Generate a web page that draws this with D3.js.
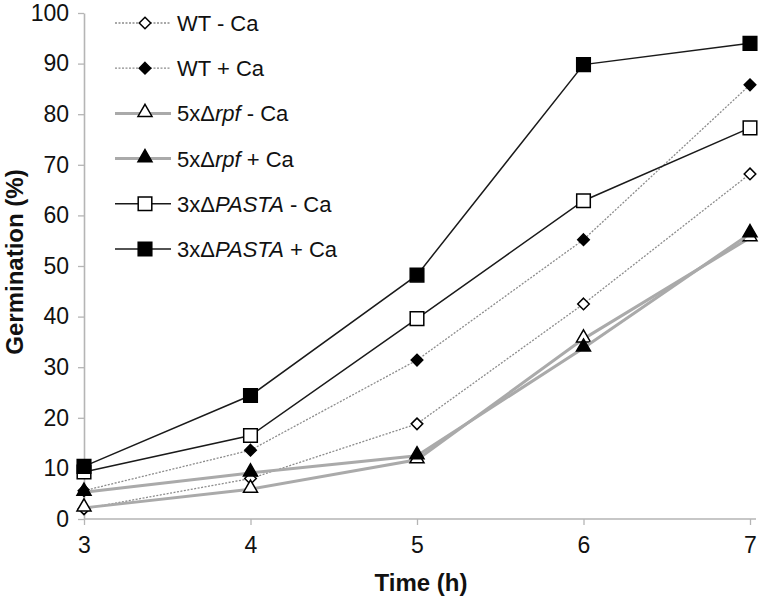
<!DOCTYPE html>
<html><head><meta charset="utf-8">
<script src="https://cdn.jsdelivr.net/npm/d3@7"></script>
<style>body{margin:0;background:#fff}svg{display:block;font-family:"Liberation Sans",Arial,sans-serif}</style>
</head><body><svg id="c" width="760" height="598"></svg>
<script>
const times = [3, 4, 5, 6, 7];
const yTicks = [0, 10, 20, 30, 40, 50, 60, 70, 80, 90, 100];
const seriesNames = ["WT - Ca", "WT + Ca", "5x\u0394rpf - Ca", "5x\u0394rpf + Ca", "3x\u0394PASTA - Ca", "3x\u0394PASTA + Ca"];
const wtMinus = [2, 8, 18.8, 42.5, 68.2];
const wtPlus = [5.6, 13.6, 31.4, 55.2, 85.8];
const rpfMinus = [2.2, 5.9, 11.7, 35.6, 55.6];
const rpfPlus = [5.3, 9.1, 12.5, 33.8, 56.4];
const pastaMinus = [9.3, 16.5, 39.6, 62.9, 77.3];
const pastaPlus = [10.4, 24.4, 48.2, 89.8, 94.0];

const series = [
  {name: seriesNames[0], values: wtMinus, stroke: "#8c8c8c", width: 1.3, dash: "2,1.5", shape: "diamond", fill: "#fff", label: [["WT - Ca", false]]},
  {name: seriesNames[1], values: wtPlus, stroke: "#8c8c8c", width: 1.3, dash: "2,1.5", shape: "diamond", fill: "#000", label: [["WT + Ca", false]]},
  {name: seriesNames[2], values: rpfMinus, stroke: "#aaaaaa", width: 3, dash: null, shape: "triangle", fill: "#fff", label: [["5x\u0394", false], ["rpf", true], [" - Ca", false]]},
  {name: seriesNames[3], values: rpfPlus, stroke: "#aaaaaa", width: 3, dash: null, shape: "triangle", fill: "#000", label: [["5x\u0394", false], ["rpf", true], [" + Ca", false]]},
  {name: seriesNames[4], values: pastaMinus, stroke: "#1a1a1a", width: 1.5, dash: null, shape: "square", fill: "#fff", label: [["3x\u0394", false], ["PASTA", true], [" - Ca", false]]},
  {name: seriesNames[5], values: pastaPlus, stroke: "#1a1a1a", width: 1.5, dash: null, shape: "square", fill: "#000", label: [["3x\u0394", false], ["PASTA", true], [" + Ca", false]]}
];

const svg = d3.select("#c");
const x = d3.scaleLinear().domain([3, 7]).range([84, 750]);
const y = d3.scaleLinear().domain([0, 100]).range([519, 13]);

// axes
const xAxis = svg.append("g").attr("transform", "translate(0,519)")
  .call(d3.axisBottom(x).tickValues(times).tickFormat(d3.format("d")).tickSize(6).tickPadding(12).tickSizeOuter(0));
const yAxis = svg.append("g").attr("transform", "translate(84,0)")
  .call(d3.axisLeft(y).tickValues(yTicks).tickFormat(d3.format("d")).tickSize(6).tickPadding(9).tickSizeOuter(0));
[xAxis, yAxis].forEach(a => {
  a.select(".domain").attr("stroke", "#b5b5b5").attr("stroke-width", 1.6);
  a.selectAll(".tick line").attr("stroke", "#b5b5b5").attr("stroke-width", 1.3);
  a.selectAll(".tick text").attr("font-size", 23).attr("fill", "#111").attr("font-family", "Liberation Sans, Arial, sans-serif");
});
xAxis.select(".domain").attr("d", "M84,0H756");

svg.append("text").attr("x", 421).attr("y", 591).attr("text-anchor", "middle")
  .attr("font-size", 24).attr("font-weight", "bold").attr("fill", "#111").text("Time (h)");
svg.append("text").attr("transform", "translate(23,262) rotate(-90)").attr("text-anchor", "middle")
  .attr("font-size", 24).attr("font-weight", "bold").attr("fill", "#111").text("Germination (%)");

const sym = {diamond: d3.symbol().type(d3.symbolDiamond2).size(85),
             triangle: d3.symbol().type(d3.symbolTriangle).size(85),
             square: d3.symbol().type(d3.symbolSquare).size(185)};
const symOffset = {diamond: 0, triangle: 1, square: 0};
const line = d3.line().x((d, i) => x(times[i])).y(d => y(d));

series.forEach(s => {
  const g = svg.append("g");
  g.append("path").attr("d", line(s.values)).attr("fill", "none")
    .attr("stroke", s.stroke).attr("stroke-width", s.width).attr("stroke-dasharray", s.dash);
  g.selectAll("path.m").data(s.values).join("path").attr("class", "m")
    .attr("d", sym[s.shape]).attr("transform", (d, i) => `translate(${x(times[i])},${y(d) - symOffset[s.shape]})`)
    .attr("fill", s.fill).attr("stroke", "#000").attr("stroke-width", 1.5);
});

// legend
const lg = svg.append("g");
series.forEach((s, i) => {
  const yy = 23 + i * 45.2;
  lg.append("line").attr("x1", 115).attr("x2", 171).attr("y1", yy).attr("y2", yy)
    .attr("stroke", s.stroke).attr("stroke-width", s.width).attr("stroke-dasharray", s.dash);
  lg.append("path").attr("d", sym[s.shape]).attr("transform", `translate(145,${yy - symOffset[s.shape]})`)
    .attr("fill", s.fill).attr("stroke", "#000").attr("stroke-width", 1.5);
  const t = lg.append("text").attr("x", 177).attr("y", yy + 8).attr("font-size", 22).attr("fill", "#111");
  s.label.forEach(([txt, it]) => t.append("tspan").attr("font-style", it ? "italic" : "normal").text(txt));
});
</script></body></html>
